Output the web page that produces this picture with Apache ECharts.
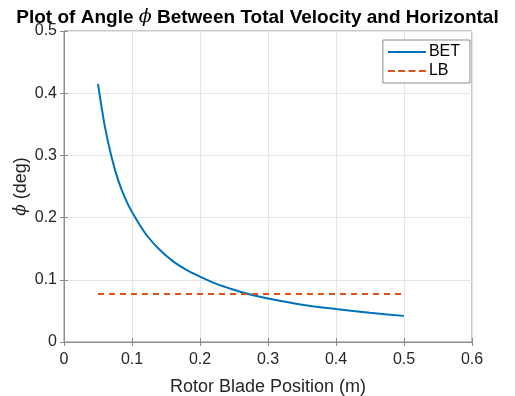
<!DOCTYPE html>
<html><head><meta charset="utf-8">
<script src="https://cdn.jsdelivr.net/npm/echarts@6/dist/echarts.min.js"></script>
<style>html,body{margin:0;padding:0;background:#fff}#c{width:515px;height:396px}</style>
</head><body><div id="c"></div>
<script>
const titleText = 'Plot of Angle {i|\u03D5} Between Total Velocity and Horizontal';
const yName = '{i|\u03D5} (deg)';
const xName = 'Rotor Blade Position (m)';
const xTicks = [0, 0.1, 0.2, 0.3, 0.4, 0.5, 0.6];
const yTicks = [0, 0.1, 0.2, 0.3, 0.4, 0.5];
const betX = [0.05,0.06,0.07,0.08,0.09,0.10,0.12,0.14,0.16,0.18,0.20,0.225,0.25,0.275,0.30,0.35,0.40,0.45,0.50];
const betY = [0.415,0.347,0.297,0.259,0.231,0.209,0.174,0.149,0.130,0.116,0.105,0.093,0.084,0.076,0.070,0.060,0.053,0.047,0.042];
const lbX = [0.05, 0.50];
const lbY = [0.077, 0.077];

const chart = echarts.init(document.getElementById('c'), null, {renderer:'canvas'});
const FF = 'Liberation Sans, Arial, Helvetica, sans-serif';
const tickFont = {fontFamily:FF, fontSize:16, color:'#262626'};
const frameCol = '#8c8c8c';
const solidIcon = 'path://M0,0h38v2h-38z';
const dashIcon = 'path://M0,0h7v2h-7zM10.3,0h7v2h-7zM20.6,0h7v2h-7zM31,0h7v2h-7z';
chart.setOption({
  animation:false,
  title:{text:titleText, left:'center', top:3, textStyle:{fontFamily:FF, fontWeight:'bold', fontSize:19, color:'#000',
    rich:{i:{fontFamily:'DejaVu Serif, serif', fontStyle:'italic', fontWeight:'normal', fontSize:19, color:'#000'}}}},
  grid:{left:64, right:43, top:31, bottom:54, show:true, borderColor:frameCol, borderWidth:1, outerBoundsMode:'none', containLabel:false},
  legend:{orient:'vertical', right:45, top:40, itemWidth:38, itemHeight:2, itemGap:3,
    backgroundColor:'#fff', borderColor:frameCol, borderWidth:1, padding:[4,10,4,5],
    textStyle:{fontFamily:FF, fontSize:16, color:'#000', padding:[0,0,0,-2]},
    data:[{name:'BET', icon:solidIcon, itemStyle:{color:'#0072BD'}},{name:'LB', icon:dashIcon, itemStyle:{color:'#D95319'}}]},
  xAxis:[{type:'value', min:xTicks[0], max:xTicks[xTicks.length-1], interval:0.1,
    name:xName, nameLocation:'middle', nameGap:36, nameMoveOverlap:false,
    nameTextStyle:{fontFamily:FF, fontSize:18, color:'#262626'},
    axisLine:{show:true, onZero:false, lineStyle:{color:frameCol}},
    axisTick:{show:true, inside:true, length:4, lineStyle:{color:frameCol}},
    axisLabel:Object.assign({margin:10, formatter:v=>String(Math.round(v*10)/10)}, tickFont),
    splitLine:{show:true, lineStyle:{color:'#e6e6e6'}}},
   {type:'value', position:'top', min:0, max:0.6, interval:0.1, axisLine:{show:true, lineStyle:{color:frameCol}},
    axisTick:{show:true, inside:true, length:4, lineStyle:{color:frameCol}}, axisLabel:{show:false}, splitLine:{show:false}}],
  yAxis:[{type:'value', min:yTicks[0], max:yTicks[yTicks.length-1], interval:0.1,
    name:yName, nameLocation:'middle', nameGap:34, nameMoveOverlap:false,
    nameTextStyle:{fontFamily:FF, fontSize:18, color:'#262626',
      rich:{i:{fontFamily:'DejaVu Serif, serif', fontStyle:'italic', fontSize:17, color:'#262626'}}},
    axisLine:{show:true, onZero:false, lineStyle:{color:frameCol}},
    axisTick:{show:true, inside:true, length:4, lineStyle:{color:frameCol}},
    axisLabel:Object.assign({margin:7, formatter:v=>String(Math.round(v*10)/10)}, tickFont),
    splitLine:{show:true, lineStyle:{color:'#e6e6e6'}}},
   {type:'value', position:'right', min:0, max:0.5, interval:0.1, axisLine:{show:true, lineStyle:{color:frameCol}},
    axisTick:{show:true, inside:true, length:4, lineStyle:{color:frameCol}}, axisLabel:{show:false}, splitLine:{show:false}}],
  series:[
    {name:'BET', type:'line', smooth:0.3, symbol:'none', data:betX.map((x,i)=>[x,betY[i]]),
     lineStyle:{color:'#0072BD', width:2}, itemStyle:{color:'#0072BD'}},
    {name:'LB', type:'line', symbol:'none', data:lbX.map((x,i)=>[x,lbY[i]]),
     lineStyle:{color:'#D95319', width:2, type:[6,5]}, itemStyle:{color:'#D95319'}}
  ]
});
</script></body></html>
